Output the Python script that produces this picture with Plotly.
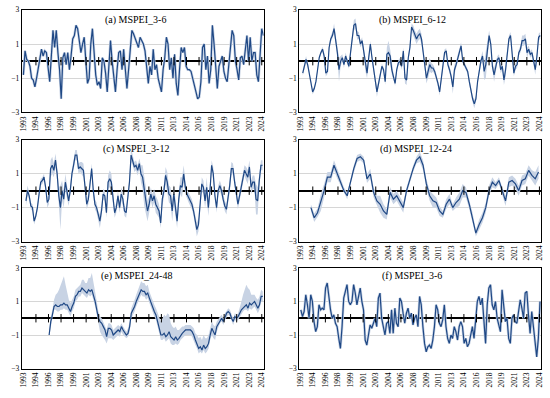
import plotly.graph_objects as go

# ---------------- data ----------------
YEAR_LABELS = ["1993", "1994", "1996", "1998", "1999", "2001", "2003", "2004", "2006", "2008",
               "2009", "2011", "2013", "2014", "2016", "2018", "2019", "2021", "2023", "2024"]
TICK_MONTHS = [20 * k for k in range(len(YEAR_LABELS))]  # one label every 20 months from Jan 1993

STEP_FINE = 2.62    # months between samples
STEP_COARSE = 5.24

a_vals = [-0.8, 0.6, 0.1, 0.0, -0.3, -1.0, -1.1, -1.5, -1.0, -0.5,
          0.2, 0.7, 0.3, 0.6, 0.5, -0.5, -1.2, 0.3, 1.8, 0.8,
          1.8, 0.5, -0.5, -2.2, 0.2, 0.5, -0.2, 0.5, -0.5, 0.3,
          1.3, 1.5, 2.1, 1.9, 1.2, 0.5, 1.0, 1.4, 0.0, -1.3,
          -1.0, 1.0, 1.9, 0.3, -0.8, -1.4, -1.2, -1.6, 0.2, 0.0,
          -0.7, -1.8, 0.0, 1.2, 0.0, -0.8, -1.8, -0.5, 0.5, 0.6,
          -0.5, 0.7, -0.5, -1.6, -0.5, 0.8, 1.8, 1.6, 1.3, 1.0,
          0.8, 1.4, 1.2, 1.0, 0.6, -0.5, -1.3, -0.3, -0.8, 0.7,
          -0.5, -0.2, -1.0, -1.4, -1.8, -0.5, 0.2, 1.4, 1.0, -0.5,
          0.2, -1.0, 0.4, -1.3, -2.0, -0.5, 0.8, 0.5, 0.8, -0.3,
          -0.5, -0.5, -0.6, -1.0, -1.5, -1.8, -2.2, -2.1, -1.2, 0.8,
          1.0, -0.5, 0.3, -1.3, -0.5, 2.1, 1.0, -0.5, -1.6, -0.3,
          0.0, 0.3, -0.6, -1.0, -1.2, -0.2, 0.5, 1.8, 1.5, 0.0,
          -0.5, -1.1, 0.2, 0.3, -0.2, 0.8, 1.5, 0.0, 1.4, 0.0,
          0.5, 0.5, -0.8, -1.2, 0.8, 1.9, 1.5]

b_vals = [-0.7, -0.3, 0.1, -0.2, -0.7, -1.1, -1.8, -1.6, -1.2, -0.5,
          0.2, 0.5, 0.7, 0.3, -0.7, -0.6, 0.8, 1.3, 1.5, 1.9,
          1.3, 0.5, -0.5, 0.0, 0.2, -0.2, 0.3, 0.0, -0.3, 0.5,
          1.2, 2.1, 2.2, 1.5, 1.5, 1.0, 1.2, 0.5, -0.2, -0.7,
          0.2, 1.0, 0.2, -0.5, -1.2, -1.8, -1.3, -0.8, -0.3, -0.5,
          -1.2, 0.4, 0.5, 0.3, -0.5, -0.9, -1.3, -0.5, -0.1, 0.0,
          -0.3, 0.6, -1.0, -1.1, 0.2, 0.8, 2.0, 1.8, 1.5, 1.3,
          1.5, 1.6, 1.3, 0.6, -0.3, -1.0, -0.6, -0.2, -0.4, -0.4,
          -0.6, -0.9, -1.3, -1.8, -1.0, -0.3, 0.5, 0.6, -0.2, -0.5,
          -0.9, -1.5, -0.5, -0.2, 0.2, 0.6, 0.9, 0.0, -0.2, -0.4,
          -0.6, -1.2, -1.8, -2.2, -2.5, -2.2, -1.2, -0.5, 0.0, 0.3,
          -0.6, -0.2, 0.8, 1.5, 1.0, -0.3, -0.8, -0.3, 0.1, 0.2,
          -0.5, -0.3, -1.1, -0.5, 0.6, 1.3, 1.5, 0.5, -0.7, -0.3,
          -0.2, 0.5, 0.7, 1.2, 1.2, 1.3, 0.5, 0.7, 0.4, 0.5,
          -0.1, -0.5, 0.3, 1.4, 1.5]
b_spread = [0.15, 0.2, 0.2, 0.15, 0.1, 0.1, 0.15, 0.15, 0.1, 0.1,
            0.1, 0.1, 0.15, 0.2, 0.2, 0.15, 0.2, 0.2, 0.2, 0.3,
            0.3, 0.3, 0.7, 0.3, 0.2, 0.2, 0.2, 0.15, 0.15, 0.2,
            0.2, 0.3, 0.3, 0.25, 0.2, 0.2, 0.2, 0.4, 0.4, 0.3,
            0.3, 0.2, 0.2, 0.2, 0.2, 0.3, 0.2, 0.2, 0.15, 0.15,
            0.2, 0.4, 0.7, 0.4, 0.3, 0.2, 0.15, 0.15, 0.15, 0.2,
            0.2, 0.2, 0.3, 0.3, 0.2, 0.2, 0.2, 0.3, 0.3, 0.3,
            0.3, 0.3, 0.3, 0.2, 0.2, 0.3, 0.4, 0.4, 0.3, 0.2,
            0.2, 0.2, 0.2, 0.2, 0.2, 0.2, 0.2, 0.15, 0.15, 0.2,
            0.2, 0.4, 0.3, 0.2, 0.2, 0.2, 0.2, 0.15, 0.15, 0.15,
            0.15, 0.2, 0.2, 0.2, 0.25, 0.2, 0.2, 0.2, 0.2, 0.3,
            0.5, 0.8, 0.5, 0.3, 0.2, 0.2, 0.4, 0.3, 0.2, 0.2,
            0.2, 0.2, 0.3, 0.4, 0.2, 0.2, 0.2, 0.2, 0.2, 0.2,
            0.2, 0.2, 0.2, 0.3, 0.3, 0.3, 0.3, 0.2, 0.2, 0.2,
            0.2, 0.3, 0.2, 0.2, 0.2]

c_vals = [-0.6, 0.0, -0.3, -0.9, -1.0, -1.8, -1.5, -1.0, -0.2, 0.5,
          0.6, 0.8, 0.2, -0.7, -0.5, 1.3, 1.5, 1.2, 1.8, 1.0,
          -0.3, -1.0, 0.0, -0.5, 0.5, -0.1, -0.6, 0.0, 1.0, 1.5,
          2.1, 2.1, 1.3, 1.4, 1.3, 1.2, 0.2, -0.8, -0.5, 0.6,
          1.3, 0.0, -0.8, -1.0, -1.5, -1.8, -1.2, -0.2, -0.3, -1.3,
          0.5, 0.7, 0.5, -0.5, -1.3, -1.0, -0.3, -1.0, -0.2, -0.5,
          -1.2, -1.3, -0.5, 0.5, 2.1, 1.8, 1.4, 1.5, 1.2, 1.6,
          1.0, 0.8, 0.0, -0.6, -1.2, -0.8, -0.2, -0.6, -0.3, -0.8,
          -1.0, -1.2, -1.9, -0.5, 0.0, 0.9, 0.5, -0.2, -0.3, -1.2,
          -0.2, -1.2, -1.8, -0.5, 0.3, 0.2, 1.0, 0.2, -0.2, -0.4,
          -0.6, -0.8, -1.2, -1.8, -2.3, -2.0, -1.0, 0.4, 0.2, -0.6,
          0.2, -1.0, 0.0, 1.5, 1.0, -0.3, -1.0, 0.0, 0.3, 0.0,
          -0.5, -0.9, -1.1, -0.5, 0.3, 1.3, 1.3, 0.5, -0.2, -0.8,
          -0.3, 0.2, 0.6, 1.2, 1.0, 0.8, 1.4, 0.2, 0.5, 0.5,
          -0.5, -0.6, 0.6, 1.5, 1.5]
c_spread = [0.3, 0.3, 0.2, 0.2, 0.2, 0.2, 0.2, 0.2, 0.2, 0.2,
            0.2, 0.2, 0.2, 0.3, 0.3, 0.5, 0.5, 0.4, 0.4, 0.4,
            0.5, 1.3, 0.6, 0.5, 0.5, 0.4, 0.3, 0.3, 0.3, 0.3,
            0.3, 0.3, 0.3, 0.3, 0.4, 0.4, 0.3, 0.3, 0.3, 0.3,
            0.3, 0.3, 0.3, 0.3, 0.3, 0.4, 0.4, 0.3, 0.3, 0.3,
            0.4, 0.5, 0.5, 0.4, 0.3, 0.3, 0.3, 0.3, 0.4, 0.4,
            0.3, 0.3, 0.3, 0.3, 0.4, 0.3, 0.3, 0.3, 0.3, 0.3,
            0.5, 0.7, 0.9, 0.8, 0.6, 0.5, 0.4, 0.4, 0.4, 0.5,
            0.5, 0.4, 0.3, 0.4, 0.4, 0.5, 0.6, 0.5, 0.5, 0.6,
            0.6, 0.5, 0.4, 0.4, 0.5, 0.6, 0.5, 0.4, 0.3, 0.3,
            0.3, 0.3, 0.3, 0.3, 0.4, 0.4, 0.3, 0.4, 0.4, 0.4,
            0.6, 0.5, 0.4, 0.3, 0.4, 0.3, 0.3, 0.3, 0.3, 0.3,
            0.3, 0.3, 0.3, 0.3, 0.4, 0.4, 0.3, 0.3, 0.4, 0.3,
            0.3, 0.3, 0.3, 0.3, 0.4, 0.4, 0.4, 0.4, 0.4, 0.4,
            0.9, 0.8, 0.4, 0.3, 0.3]

d_vals = [-1.0, -1.6, -1.3, -0.7, 0.0, 0.8, 0.8, 1.5, 1.0, 0.5,
          0.0, -0.3, 0.6, 1.3, 1.9, 2.0, 1.8, 0.7, 1.0, -0.1,
          -0.6, -0.8, -1.2, -1.4, -0.1, -0.5, -0.3, -0.7, -1.0, 0.0,
          0.7, 1.3, 1.8, 2.0, 1.5, 0.4, -0.3, -0.6, -0.7, -1.2,
          -1.4, -0.8, -0.5, -1.0, -0.7, -0.5, 0.0, -0.1, -0.8, -1.6,
          -2.5, -2.0, -1.6, -1.0, 0.0, 0.5, 0.3, 0.6, 0.0, -0.6,
          0.5, 0.6, 0.4, 0.0, 0.6, 0.7, 1.2, 0.9, 0.7, 1.1]
d_spread = [0.2, 0.25, 0.25, 0.5, 0.4, 0.3, 0.3, 0.3, 0.3, 0.2,
            0.2, 0.2, 0.2, 0.2, 0.2, 0.2, 0.2, 0.25, 0.3, 0.3,
            0.3, 0.5, 0.4, 0.3, 0.3, 0.3, 0.3, 0.3, 0.3, 0.2,
            0.2, 0.2, 0.2, 0.3, 0.3, 0.3, 0.3, 0.4, 0.3, 0.3,
            0.2, 0.3, 0.3, 0.2, 0.3, 0.4, 0.4, 0.3, 0.3, 0.3,
            0.2, 0.3, 0.3, 0.3, 0.3, 0.3, 0.2, 0.2, 0.2, 0.3,
            0.3, 0.3, 0.3, 0.3, 0.3, 0.3, 0.3, 0.3, 0.4, 0.4]

e_vals = [-1.0, -0.2, 0.2, 0.7, 0.8, 0.7, 0.7, 0.8, 0.8, 0.9,
          0.8, 0.8, 0.6, 0.4, 0.7, 0.9, 1.3, 1.4, 1.6, 1.6,
          1.8, 1.7, 1.6, 1.5, 1.7, 1.6, 1.7, 1.4, 1.0, 0.5,
          0.0, -0.2, -0.3, -0.5, -0.7, -1.1, -0.6, -0.6, -0.7, -1.0,
          -0.9, -0.8, -0.7, -0.8, -0.5, -0.7, -0.9, -1.0, -0.9, -0.5,
          0.3, 0.5, 0.7, 1.0, 1.2, 1.5, 1.7, 1.6, 1.6, 1.4,
          1.5, 1.2, 0.9, 0.6, 0.4, 0.2, -0.2, -0.6, -1.0, -1.0,
          -0.9, -1.1, -1.0, -0.8, -1.1, -1.2, -1.3, -1.1, -1.3, -1.2,
          -1.0, -0.9, -0.8, -0.7, -0.7, -0.7, -0.7, -0.8, -1.0, -1.3,
          -1.5, -1.8, -1.7, -1.9, -1.6, -1.8, -1.7, -1.5, -1.0, -0.6,
          -0.8, -1.0, -0.5, -0.3, -0.1, 0.0, -0.2, 0.1, 0.3, 0.4,
          0.3, 0.0, -0.2, 0.1, 0.0, 0.1, 0.3, 0.5, 0.6, 0.7,
          0.8, 0.6, 0.9, 0.8, 0.9, 1.0, 0.8, 0.6, 0.8, 1.3,
          1.3]
e_up = [0.2, 0.3, 0.3, 0.4, 0.6, 0.8, 1.0, 1.2, 1.5, 1.6,
        1.2, 0.8, 0.5, 0.5, 0.4, 0.4, 0.4, 0.4, 0.3, 0.4,
        0.5, 0.6, 0.5, 0.6, 0.7, 0.8, 1.0, 0.8, 0.6, 0.5,
        0.4, 0.3, 0.3, 0.3, 0.3, 0.4, 0.3, 0.3, 0.3, 0.3,
        0.3, 0.3, 0.3, 0.3, 0.2, 0.2, 0.2, 0.2, 0.3, 0.3,
        0.3, 0.3, 0.4, 0.4, 0.5, 0.5, 0.5, 0.5, 0.5, 0.5,
        0.5, 0.4, 0.4, 0.4, 0.4, 0.4, 0.5, 0.6, 0.8, 1.0,
        1.1, 1.2, 1.3, 1.0, 0.8, 0.7, 0.7, 0.6, 0.6, 0.5,
        0.4, 0.4, 0.3, 0.3, 0.3, 0.3, 0.3, 0.3, 0.4, 0.4,
        0.5, 0.6, 0.6, 0.6, 0.6, 0.6, 0.5, 0.5, 0.5, 0.4,
        0.4, 0.5, 0.3, 0.3, 0.2, 0.2, 0.2, 0.2, 0.2, 0.2,
        0.2, 0.2, 0.2, 0.2, 0.2, 0.2, 0.3, 0.5, 0.8, 1.0,
        1.2, 1.2, 0.8, 0.6, 0.5, 0.4, 0.4, 0.5, 0.5, 0.4,
        0.3]
e_dn = [0.1, 0.2, 0.2, 0.2, 0.3, 0.3, 0.3, 0.3, 0.3, 0.3,
        0.3, 0.3, 0.3, 0.3, 0.3, 0.3, 0.3, 0.3, 0.3, 0.3,
        0.3, 0.3, 0.3, 0.3, 0.3, 0.3, 0.3, 0.3, 0.3, 0.3,
        0.4, 0.6, 0.7, 0.7, 0.6, 0.4, 0.6, 0.6, 0.5, 0.3,
        0.3, 0.3, 0.3, 0.3, 0.3, 0.3, 0.2, 0.2, 0.2, 0.3,
        0.3, 0.3, 0.3, 0.3, 0.3, 0.3, 0.3, 0.3, 0.3, 0.3,
        0.3, 0.3, 0.3, 0.3, 0.3, 0.3, 0.3, 0.3, 0.3, 0.3,
        0.3, 0.3, 0.3, 0.4, 0.4, 0.4, 0.3, 0.4, 0.3, 0.3,
        0.3, 0.3, 0.3, 0.3, 0.3, 0.3, 0.3, 0.3, 0.3, 0.3,
        0.3, 0.3, 0.3, 0.2, 0.3, 0.3, 0.3, 0.3, 0.3, 0.4,
        0.4, 0.3, 0.3, 0.2, 0.2, 0.2, 0.2, 0.2, 0.2, 0.2,
        0.2, 0.2, 0.2, 0.2, 0.2, 0.2, 0.2, 0.2, 0.2, 0.2,
        0.3, 0.2, 0.3, 0.3, 0.3, 0.3, 0.3, 0.3, 0.3, 0.3,
        0.3]

f_vals = [0.5, 0.1, 0.4, 1.4, 0.8, 0.0, 1.4, 1.0, -0.2, -0.8,
          -0.5, 0.8, 0.5, 0.6, 0.5, 1.8, 2.1, 1.2, 0.5, 0.0,
          0.2, -0.3, -0.5, -1.2, -1.8, -0.5, 1.2, 1.6, 2.0, 1.0,
          0.8, 1.0, 2.0, 1.5, 0.8, 1.3, 1.8, 1.0, 0.5, -1.3,
          -1.6, -1.0, -0.4, -0.6, -0.3, 0.0, -0.5, 1.2, 1.5, 0.0,
          -0.5, -1.0, -0.3, -0.2, -0.9, 0.5, -0.9, 0.6, -0.3, -0.5,
          1.2, 1.0, 0.3, -0.3, 0.3, 0.6, 0.0, 0.3, -0.4, 0.0,
          0.2, -0.5, 1.3, 0.8, -0.5, -1.5, -2.0, -1.7, -1.6, -1.8,
          -1.3, -0.5, 0.8, 0.5, -0.3, -0.5, -0.1, 0.8, -0.5, -1.2,
          -1.5, -1.0, -1.2, -0.5, -0.8, -1.3, -0.5, -0.2, -0.5, -1.5,
          -1.2, -1.7, -1.5, -1.0, -0.5, -1.2, 0.2, 1.0, 1.3, 0.8,
          1.2, -0.3, -1.5, 0.8, 1.8, 2.0, 0.8, 0.5, 1.0, 0.0,
          -0.5, -0.8, 1.7, 0.5, -0.2, 0.0, -1.2, -1.5, 0.0, 0.2,
          -0.2, -0.3, 0.4, 1.1, 0.6, 0.0, 1.5, 1.6, 0.2, -0.9,
          0.4, -0.5, -1.8, -2.3, -1.2, 1.0]

PANELS = [
    dict(title="(a) MSPEI_3-6", start=0, step=STEP_FINE, vals=a_vals, up=None, dn=None),
    dict(title="(b) MSPEI_6-12", start=4, step=STEP_FINE, vals=b_vals, up=b_spread, dn=b_spread),
    dict(title="(c) MSPEI_3-12", start=4, step=STEP_FINE, vals=c_vals, up=c_spread, dn=c_spread),
    dict(title="(d) MSPEI_12-24", start=17, step=STEP_COARSE, vals=d_vals, up=d_spread, dn=d_spread),
    dict(title="(e) MSPEI_24-48", start=41, step=STEP_FINE, vals=e_vals, up=e_up, dn=e_dn),
    dict(title="(f) MSPEI_3-6", start=1, step=STEP_FINE, vals=f_vals, up=None, dn=None),
]

# ---------------- style / layout ----------------
W, H = 550, 398
COL_PX = [(18, 263), (299, 544)]
ROW_PX = [(6, 111), (139, 243), (270, 373)]
X_RANGES = [[-2.6, 383.0], [-1.6, 382.6]]
TITLE_X = [0.47, 0.47, 0.474, 0.484, 0.474, 0.467]
TITLE_Y = [0.905, 0.905, 0.91, 0.91, 0.92, 0.92]

LINE_C = "#1f4885"
BAND_C = "#c8d3e4"
FONT = "Liberation Serif"

fig = go.Figure()
layout = dict(width=W, height=H, margin=dict(l=0, r=0, t=0, b=0),
              paper_bgcolor="white", plot_bgcolor="white", showlegend=False,
              annotations=[])

for i, p in enumerate(PANELS):
    n = i + 1
    xa = "x" if n == 1 else f"x{n}"
    ya = "y" if n == 1 else f"y{n}"
    vals = p["vals"]
    xs = [p["start"] + p["step"] * k for k in range(len(vals))]
    if p["up"] is not None:
        upper = [v + u for v, u in zip(vals, p["up"])]
        lower = [v - d for v, d in zip(vals, p["dn"])]
        fig.add_trace(go.Scatter(x=xs, y=lower, mode="lines", line=dict(width=0, color=BAND_C),
                                 hoverinfo="skip", xaxis=xa, yaxis=ya))
        fig.add_trace(go.Scatter(x=xs, y=upper, mode="lines", line=dict(width=0, color=BAND_C),
                                 fill="tonexty", fillcolor=BAND_C, hoverinfo="skip",
                                 xaxis=xa, yaxis=ya))
    else:
        fig.add_trace(go.Scatter(x=xs, y=vals, mode="lines", line=dict(width=2.6, color=BAND_C),
                                 hoverinfo="skip", xaxis=xa, yaxis=ya))
    fig.add_trace(go.Scatter(x=xs, y=vals, mode="lines", line=dict(width=1.2, color=LINE_C),
                             xaxis=xa, yaxis=ya))
    # tick marks crossing the zero line
    fig.add_trace(go.Scatter(x=TICK_MONTHS[1:], y=[0] * (len(TICK_MONTHS) - 1), mode="markers",
                             marker=dict(symbol="line-ns", size=6,
                                         line=dict(width=1, color="black")),
                             hoverinfo="skip", xaxis=xa, yaxis=ya))

    r, c = divmod(i, 2)
    x0, x1 = COL_PX[c]
    y0, y1 = ROW_PX[r]
    layout[f"xaxis{n}"] = dict(
        domain=[x0 / W, x1 / W], anchor=ya, range=X_RANGES[c],
        tickvals=TICK_MONTHS, ticktext=YEAR_LABELS, tickangle=-90,
        tickfont=dict(family=FONT, size=7.5, color="black"),
        ticklabeloverflow="allow",
        showgrid=False, zeroline=False, ticks="",
        showline=True, linecolor="black", linewidth=1, mirror=True)
    layout[f"yaxis{n}"] = dict(
        domain=[1 - y1 / H, 1 - y0 / H], anchor=xa, range=[-3, 3],
        tickvals=[-3, -1, 1, 3],
        tickfont=dict(family=FONT, size=7.5, color="black"),
        showgrid=True, gridcolor="#d6d6d6", gridwidth=1,
        zeroline=True, zerolinecolor="black", zerolinewidth=1.5, ticks="",
        showline=True, linecolor="black", linewidth=1, mirror=True)
    layout["annotations"].append(dict(
        text=p["title"], xref=f"{xa} domain", yref=f"{ya} domain",
        x=TITLE_X[i], y=TITLE_Y[i], xanchor="center", yanchor="middle",
        showarrow=False, font=dict(family=FONT, size=10, color="black")))

fig.update_layout(**layout)
fig.write_html("out.html", config={"displayModeBar": False},
               post_script="document.body.style.margin='0px';")
